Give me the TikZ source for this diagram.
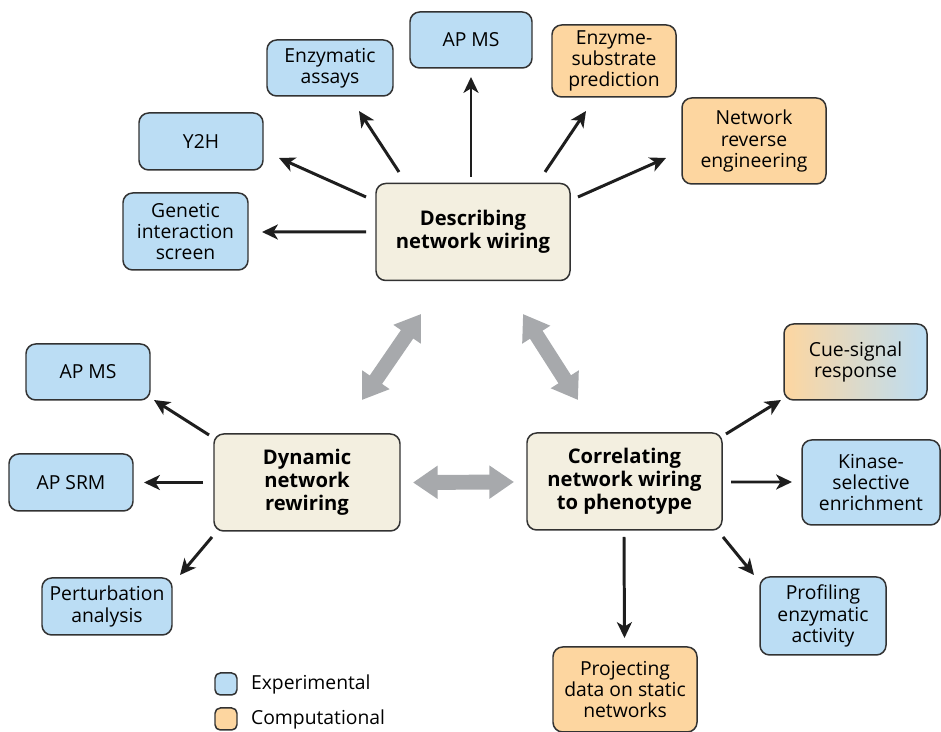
\documentclass[tikz,border=0pt]{standalone}
\usepackage{fontspec}
\setmainfont{Open Sans}
\usepackage{xcolor}
\usetikzlibrary{arrows.meta,positioning}

\definecolor{expfill}{RGB}{187,221,244}
\definecolor{compfill}{RGB}{253,214,160}
\definecolor{hubfill}{RGB}{243,239,224}
\definecolor{boxedge}{RGB}{50,50,50}
\definecolor{linkgray}{RGB}{167,169,172}
\definecolor{arrowink}{RGB}{30,30,30}

\newdimen\pxu \pxu=0.02cm

\begin{document}
\begin{tikzpicture}[x=0.02cm, y=-0.02cm,
    base/.style={draw=boxedge, line width=0.85pt, rounded corners=5.5pt, align=center, inner sep=0pt},
    sz/.style 2 args={minimum width=#1\pxu, minimum height=#2\pxu},
    hub/.style={base, fill=hubfill, font=\bfseries\fontsize{11.5}{13}\selectfont},
    expbox/.style={base, fill=expfill, font=\fontsize{11}{12}\selectfont},
    compbox/.style={base, fill=compfill, font=\fontsize{11}{12}\selectfont},
    link/.style={-{Stealth[length=9pt,width=8.5pt,inset=2.5pt]}, line width=1.7pt, draw=arrowink},
    swap/.style={{Triangle[length=14pt,width=18pt]}-{Triangle[length=14pt,width=18pt]}, line width=8.5pt, draw=linkgray}]
  \useasboundingbox (0,0) rectangle (941,732);

  % the three main themes
  \node[hub, sz={194}{97}] (desc) at (473,232) {Describing\\network wiring};
  \node[hub, sz={186}{97}] (dyn)  at (307,482.5) {Dynamic\\network\\rewiring};
  \node[hub, sz={195}{97}] (corr) at (624.5,481.5) {Correlating\\network wiring\\to phenotype};

  % methods around describing
  \node[expbox,  sz={126}{56}] (enz)   at (330,68)      {Enzymatic\\assays};
  \node[expbox,  sz={122}{56}] (apmst) at (471,40)      {AP MS};
  \node[compbox, sz={124}{72}] (esp)   at (614,61)      {Enzyme-\\substrate\\prediction};
  \node[compbox, sz={144}{86}] (nre)   at (754,141)     {Network\\reverse\\engineering};
  \node[expbox,  sz={124}{57}] (yth)   at (201,141.5)   {Y2H};
  \node[expbox,  sz={125}{77}] (gen)   at (185.5,231.5) {Genetic\\interaction\\screen};

  % methods around rewiring
  \node[expbox, sz={124}{56}] (apmsl) at (88,372)    {AP MS};
  \node[expbox, sz={124}{57}] (srm)   at (71,482.5)  {AP SRM};
  \node[expbox, sz={130}{57}] (pert)  at (107,606.5) {Perturbation\\analysis};

  % methods around phenotype
  \node[base, sz={143}{76}, left color=compfill, right color=expfill, font=\fontsize{11}{12}\selectfont] (cue) at (855.5,362) {Cue-signal\\response};
  \node[expbox,  sz={138}{85}] (kin)  at (871,482.5) {Kinase-\\selective\\enrichment};
  \node[expbox,  sz={126}{78}] (prof) at (823,616)   {Profiling\\enzymatic\\activity};
  \node[compbox, sz={144}{85}] (proj) at (625,689.5) {Projecting\\data on static\\networks};

  % legend
  \node[expbox, sz={22}{22}, rounded corners=3pt] (legexp) at (226,684) {};
  \node[compbox, sz={22}{22}, rounded corners=3pt] (legcomp) at (226,719) {};
  \node[inner sep=0pt, font=\fontsize{11}{12}\selectfont, right=13\pxu of legexp] (legexptxt) {Experimental};
  \node[inner sep=0pt, font=\fontsize{11}{12}\selectfont, right=13\pxu of legcomp] (legcomptxt) {Computational};

  % gray links between themes
  \draw[swap] ([shift={(-52,82)}]desc.center) -- ([shift={(55,-82.5)}]dyn.center);
  \draw[swap] ([shift={(50,82)}]desc.center) -- ([shift={(-46.5,-81.5)}]corr.center);
  \draw[swap] ([shift={(106,0)}]dyn.center) -- ([shift={(-110.5,0.5)}]corr.center);

  % arrows out of each theme
  \draw[link] ([shift={(-74,-60)}]desc.center) -- ([shift={(29,43)}]enz.center);
  \draw[link] ([shift={(-2,-55)}]desc.center) -- ([shift={(0,37)}]apmst.center);
  \draw[link] ([shift={(72,-60)}]desc.center) -- ([shift={(-28,50)}]esp.center);
  \draw[link] ([shift={(105,-35)}]desc.center) -- ([shift={(-88,17)}]nre.center);
  \draw[link] ([shift={(-107,-35)}]desc.center) -- ([shift={(78,16.5)}]yth.center);
  \draw[link] ([shift={(-107,0)}]desc.center) -- ([shift={(76.5,0.5)}]gen.center);

  \draw[link] ([shift={(-98,-47.5)}]dyn.center) -- ([shift={(66,28)}]apmsl.center);
  \draw[link] ([shift={(-104,0)}]dyn.center) -- ([shift={(73,0)}]srm.center);
  \draw[link] ([shift={(-95,54.5)}]dyn.center) -- ([shift={(73,-31.5)}]pert.center);

  \draw[link] ([shift={(101.5,-47.5)}]corr.center) -- ([shift={(-74.5,38)}]cue.center);
  \draw[link] ([shift={(106.5,0.5)}]corr.center) -- ([shift={(-79,-0.5)}]kin.center);
  \draw[link] ([shift={(98.5,55.5)}]corr.center) -- ([shift={(-69,-41)}]prof.center);
  \draw[link] ([shift={(-0.5,55.5)}]corr.center) -- ([shift={(-0.5,-51.5)}]proj.center);
\end{tikzpicture}
\end{document}
